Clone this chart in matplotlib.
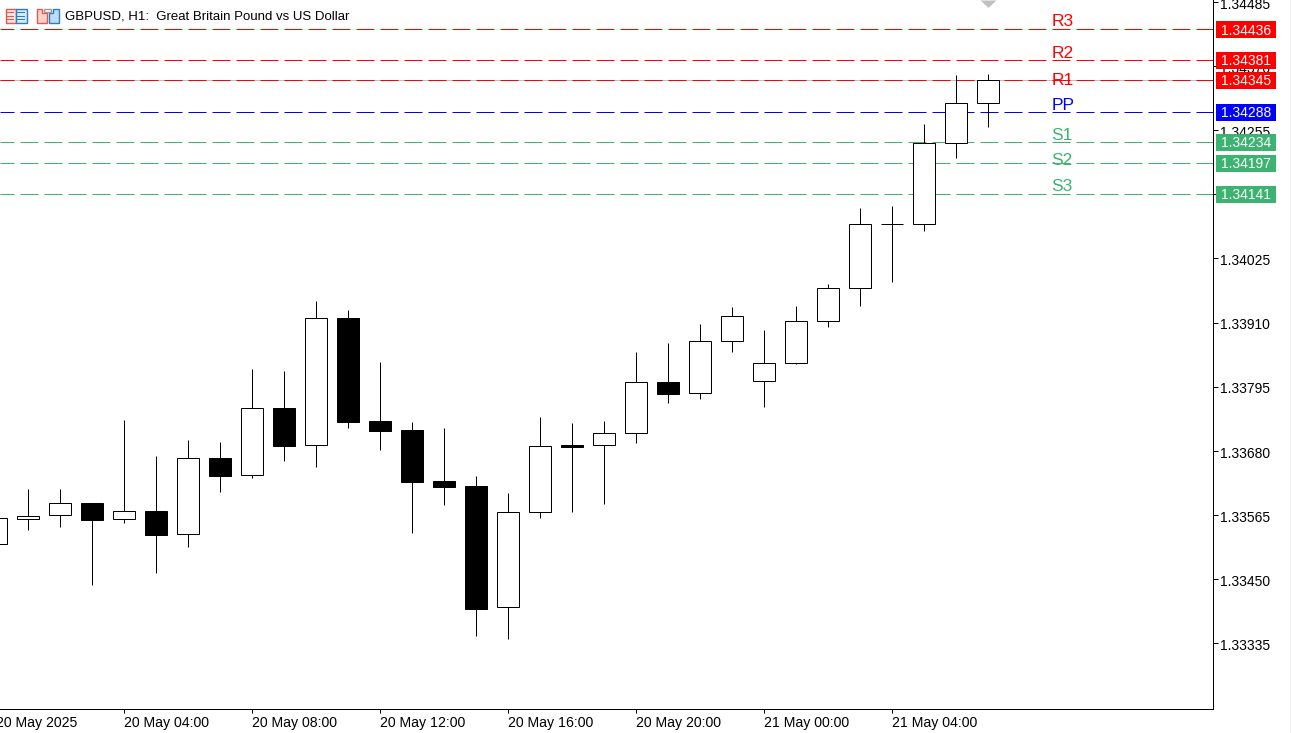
import matplotlib
matplotlib.use("Agg")
import matplotlib.pyplot as plt
from matplotlib.patches import Rectangle, Polygon
from matplotlib.transforms import ScaledTranslation

# ---------- data ----------
opens = [1.33513, 1.33558, 1.33565, 1.33586, 1.33558, 1.33572, 1.33531, 1.33667, 1.33636, 1.33757, 1.33690,
         1.33918, 1.33733, 1.33717, 1.33626, 1.33617, 1.33400, 1.33570, 1.33690, 1.33690, 1.33712, 1.33803,
         1.33784, 1.33877, 1.33805, 1.33837, 1.33913, 1.33972, 1.34087, 1.34087, 1.34232, 1.34304]
closes = [1.33559, 1.33563, 1.33586, 1.33556, 1.33572, 1.33529, 1.33667, 1.33635, 1.33757, 1.33689, 1.33918,
          1.33732, 1.33715, 1.33624, 1.33615, 1.33396, 1.33570, 1.33689, 1.33687, 1.33712, 1.33803, 1.33782,
          1.33877, 1.33922, 1.33837, 1.33913, 1.33972, 1.34087, 1.34087, 1.34232, 1.34304, 1.34345]
highs = [1.33574, 1.33611, 1.33611, 1.33586, 1.33735, 1.33671, 1.33699, 1.33696, 1.33827, 1.33823, 1.33949,
         1.33933, 1.33839, 1.33732, 1.33721, 1.33635, 1.33604, 1.33741, 1.33730, 1.33733, 1.33857, 1.33873,
         1.33907, 1.33938, 1.33897, 1.33940, 1.33979, 1.34116, 1.34119, 1.34266, 1.34354, 1.34356]
lows = [1.33499, 1.33538, 1.33543, 1.33439, 1.33550, 1.33461, 1.33507, 1.33606, 1.33631, 1.33662, 1.33651,
        1.33721, 1.33681, 1.33532, 1.33583, 1.33348, 1.33342, 1.33559, 1.33570, 1.33584, 1.33694, 1.33766,
        1.33773, 1.33857, 1.33758, 1.33836, 1.33902, 1.33940, 1.33983, 1.34074, 1.34205, 1.34261]

level_names = ["R3", "R2", "R1", "PP", "S1", "S2", "S3"]
level_values = [1.34436, 1.34381, 1.34345, 1.34288, 1.34234, 1.34197, 1.34141]
level_colors = ["#FF0000", "#FF0000", "#FF0000", "#0000FF", "#3CB371", "#3CB371", "#3CB371"]
level_label_prices = [1.34450, 1.34392, 1.34344, 1.34300, 1.34245, 1.34200, 1.34154]

price_ticks = [1.34485, 1.34370, 1.34255, 1.34140, 1.34025, 1.33910, 1.33795, 1.33680, 1.33565, 1.33450, 1.33335]
date_tick_pos = [4, 8, 12, 16, 20, 24, 28]
date_tick_labels = ["20 May 04:00", "20 May 08:00", "20 May 12:00", "20 May 16:00",
                    "20 May 20:00", "21 May 00:00", "21 May 04:00"]
first_date_label = "20 May 2025"
title_text = "GBPUSD, H1:  Great Britain Pound vs US Dollar"
bid_price = 1.34345
marker_price = 1.34488
marker_index = 31

# ---------- layout ----------
W, H = 1291, 733
AW, AH = 1213, 709
plt.rcParams["font.family"] = ["Liberation Sans", "DejaVu Sans"]
fig = plt.figure(figsize=(W / 100, H / 100), dpi=100, facecolor="white")
ax = fig.add_axes([0, 1 - AH / H, AW / W, AH / H], facecolor="white")
lw = 0.72

ax.set_xlim(4 / 32, (AW + 4) / 32)
ax.set_ylim(1.332164, 1.344888)

for s in ("top", "left"):
    ax.spines[s].set_visible(False)
for s in ("right", "bottom"):
    ax.spines[s].set_linewidth(lw)
    ax.spines[s].set_color("black")

ax.axhline(bid_price, color="#C0C0C0", lw=lw, zorder=1)
for v, c in zip(level_values, level_colors):
    ax.axhline(v, color=c, lw=lw, linestyle=(4, (18, 6)), zorder=1.5)

for i, (o, c, h, l) in enumerate(zip(opens, closes, highs, lows)):
    ax.vlines(i, l, h, color="black", lw=lw, zorder=2)
    bottom, height = min(o, c), abs(c - o)
    face = "white" if c >= o else "black"
    ax.bar(i, height, 22 / 32, bottom, facecolor=face, edgecolor="black", linewidth=lw, zorder=3)

ax.plot([marker_index], [marker_price], marker=[(-1, 0), (1, 0), (0, -0.92)], ms=11.5, color="#C0C0C0",
        mew=0, clip_on=False, zorder=3)

ax.yaxis.tick_right()
ax.set_yticks(price_ticks)
ax.set_yticklabels([f"{p:.5f}" for p in price_ticks])
ax.tick_params(axis="y", length=3.6, width=lw, pad=1.5, labelsize=10, colors="black")
for lab in ax.get_yticklabels():
    lab.set_transform(lab.get_transform() + ScaledTranslation(0, -1.4 / 100, fig.dpi_scale_trans))
ax.set_xticks(date_tick_pos)
ax.set_xticklabels(date_tick_labels, ha="left")
ax.tick_params(axis="x", length=2.9, width=lw, pad=2.5, labelsize=10.2, colors="black")
ax.text(0, -13.5 / AH, first_date_label, transform=ax.get_xaxis_transform(),
        ha="left", va="center", fontsize=10.2, clip_on=False)

ytrans = ax.get_yaxis_transform()
box_h = 0.000305
nudge = -0.00001
text_nudge = -0.00002
for name, v, c, lp in zip(level_names, level_values, level_colors, level_label_prices):
    ax.text(1051.6 / AW, lp, name, transform=ytrans, color=c, fontsize=12.5, ha="left", va="center", zorder=4)
    ax.add_patch(Rectangle((1216 / AW, v - box_h / 2 + nudge), 60 / AW, box_h, transform=ytrans,
                           facecolor=c, edgecolor="none", clip_on=False, zorder=6))
    ax.text(1221.3 / AW, v + text_nudge, f"{v:.5f}", transform=ytrans, color="white", fontsize=10,
            ha="left", va="center", clip_on=False, zorder=7)


def poly(points, fc, ec="none"):
    pts = [(x / W, 1 - y / H) for x, y in points]
    fig.add_artist(Polygon(pts, closed=True, transform=fig.transFigure, facecolor=fc, edgecolor=ec, linewidth=lw * 1.4))


def box(x0, y0, x1, y1, fc, ec="none"):
    poly([(x0, y0), (x1, y0), (x1, y1), (x0, y1)], fc, ec)


box(5.5, 9, 15.5, 23, "#FBE3E0", "#E8574F")
box(15.5, 9, 26.5, 23, "#D5E9F8", "#2E7FC1")
for yy in (12, 15.5, 19):
    box(7, yy, 14, yy + 1.2, "#E8574F")
    box(17, yy, 25, yy + 1.2, "#2E7FC1")
poly([(37, 8.5), (41.5, 8.5), (41.5, 13), (46.5, 13), (46.5, 23), (37, 23)], "#FAD4CC", "#E8574F")
poly([(49, 13), (53, 13), (53, 8.5), (58.5, 8.5), (58.5, 23), (49, 23)], "#BBDDF5", "#2E7FC1")
box(44, 9, 51, 12, "white", "#9A9A9A")
fig.text(64.7 / W, 1 - 16.8 / H, title_text, fontsize=9.55, ha="left", va="center", color="black")

box(1290, 0, 1291, 733, "#F0F0F0")

fig.savefig("out.png", dpi=100, facecolor="white")
